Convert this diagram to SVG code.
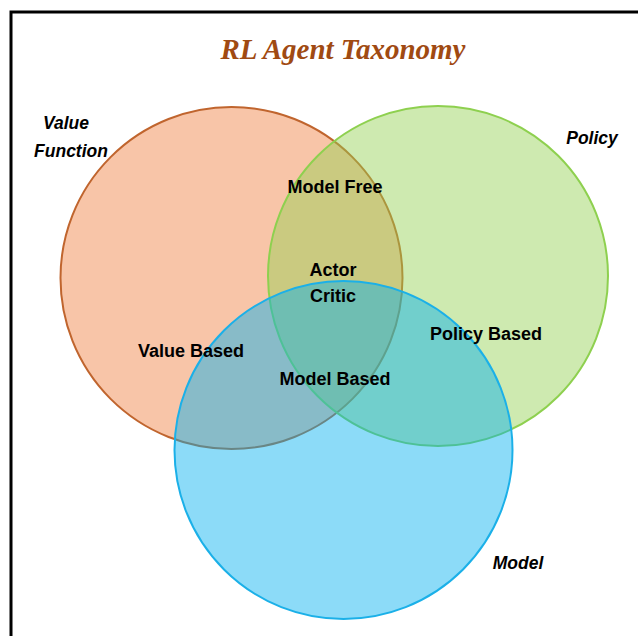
<svg xmlns="http://www.w3.org/2000/svg" width="638" height="636" viewBox="0 0 638 636">
<style>
.lbl{font-family:"Liberation Sans","Open Sans",sans-serif;font-weight:bold;font-size:18px;fill:#000;text-anchor:middle}
.set{font-family:"Liberation Sans","Open Sans",sans-serif;font-weight:bold;font-style:italic;font-size:17.5px;fill:#000;text-anchor:middle}
.title{font-family:"Liberation Serif","DejaVu Serif",serif;font-weight:bold;font-style:italic;font-size:29px;fill:#A04A12;text-anchor:middle}
</style>
<rect x="0" y="0" width="638" height="636" fill="#fff"/>
<path d="M11 636 V12 H638" fill="none" stroke="#000" stroke-width="3"/>
<text class="title" x="343" y="59">RL Agent Taxonomy</text>
<g id="value-function">
<circle cx="231.5" cy="278" r="171" fill="#F07A38" fill-opacity="0.44" stroke="#C0652E" stroke-width="2"/>
</g>
<g id="policy">
<circle cx="438" cy="276" r="170" fill="#92D050" fill-opacity="0.45" stroke="#8ED04F" stroke-width="2"/>
</g>
<g id="model">
<circle cx="343.5" cy="450" r="169" fill="#00B0F0" fill-opacity="0.45" stroke="#1BB0E8" stroke-width="2"/>
</g>
<g id="labels">
<text class="set" x="66" y="129">Value</text>
<text class="set" x="71" y="157">Function</text>
<text class="set" x="592" y="144">Policy</text>
<text class="set" x="518" y="569">Model</text>
<text class="lbl" x="335" y="193">Model Free</text>
<text class="lbl" x="333" y="276">Actor</text>
<text class="lbl" x="333" y="302">Critic</text>
<text class="lbl" x="191" y="357">Value Based</text>
<text class="lbl" x="335" y="385">Model Based</text>
<text class="lbl" x="486" y="340">Policy Based</text>
</g>
<g id="connectors"/>
</svg>
